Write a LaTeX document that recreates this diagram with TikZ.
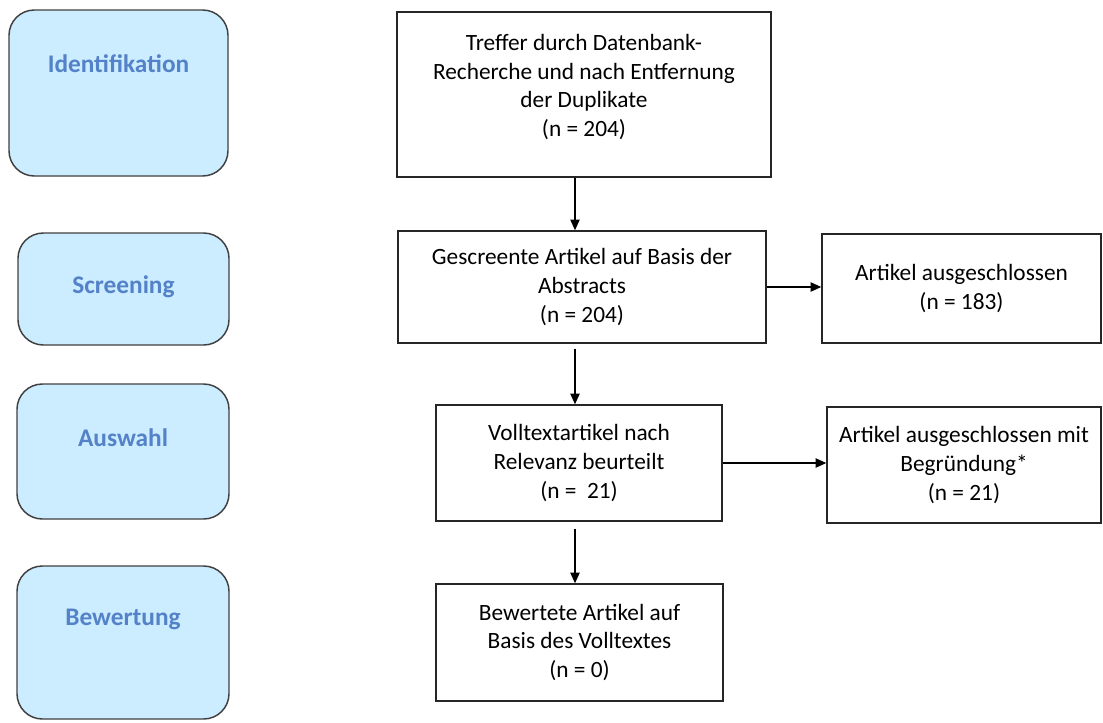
\documentclass[tikz,border=0pt]{standalone}
\usepackage{fontspec}
\setmainfont{Carlito}
\usetikzlibrary{arrows.meta}
\newlength{\pxu}\setlength{\pxu}{0.75pt}
\definecolor{phasefill}{RGB}{204,236,255}
\definecolor{phaseblue}{RGB}{84,130,200}
\definecolor{phaseline}{RGB}{64,64,64}
\tikzset{
 phase/.style={draw=phaseline, line width=1.1pt, fill=phasefill, rounded corners=19pt},
 phasetxt/.style={anchor=center, yshift=-54\pxu, font=\bfseries\fontsize{19}{22}\selectfont, text=phaseblue},
 box/.style={draw=black!85, line width=1.1pt, align=center, inner sep=2pt, font=\fontsize{17.5}{21.4}\selectfont},
 flow/.style={-{Triangle[length=8pt,width=7pt]}, line width=0.9pt}
}
\begin{document}
\begin{tikzpicture}[x=0.75pt,y=-0.75pt]
 \useasboundingbox (0,0) rectangle (1103,722);
 % phases
 \node[phase, minimum width=219\pxu, minimum height=166\pxu, label={[phasetxt]north:Identifikation}] (idf) at (118.5,93) {};
 \node[phase, minimum width=211\pxu, minimum height=112\pxu, label={[phasetxt]north:Screening}] (scr) at (123.5,289) {};
 \node[phase, minimum width=212\pxu, minimum height=135\pxu, label={[phasetxt]north:Auswahl}] (ausw) at (123,451.5) {};
 \node[phase, minimum width=212\pxu, minimum height=153\pxu, label={[phasetxt]north:Bewertung}] (bew) at (123,642.5) {};

 % flow boxes
 \node[box, minimum width=374\pxu, minimum height=165\pxu] (treffer) at (584,94.5)
  {Treffer durch Datenbank-\\Recherche und nach Entfernung\\der Duplikate\\(n = 204)\\[-8pt]};
 \node[box, minimum width=368\pxu, minimum height=112\pxu] (screen) at (582,287)
  {Gescreente Artikel auf Basis der\\Abstracts\\(n = 204)};
 \node[box, minimum width=279\pxu, minimum height=109\pxu] (excl1) at (961.5,288.5)
  {Artikel ausgeschlossen\\(n = 183)};
 \node[box, minimum width=286\pxu, minimum height=116\pxu] (volltext) at (579,463)
  {Volltextartikel nach\\Relevanz beurteilt\\(n =\ \ 21)};
 \node[box, minimum width=274\pxu, minimum height=116\pxu] (excl2) at (964,465)
  {Artikel ausgeschlossen mit\\Begründung*\\(n = 21)};
 \node[box, minimum width=287\pxu, minimum height=117\pxu] (bewertet) at (579.5,642.5)
  {Bewertete Artikel auf\\Basis des Volltextes\\(n = 0)};

 % arrows
 \coordinate (ax) at (575,0);
 \draw[flow] (treffer.south -| ax) -- (screen.north -| ax);
 \draw[flow, shorten <=5\pxu] (screen.south -| ax) -- (volltext.north -| ax);
 \draw[flow, shorten <=7\pxu] (volltext.south -| ax) -- (bewertet.north -| ax);
 \draw[flow] (screen.east) -- (screen.east -| excl1.west);
 \draw[flow] (volltext.east) -- (volltext.east -| excl2.west);
\end{tikzpicture}
\end{document}
